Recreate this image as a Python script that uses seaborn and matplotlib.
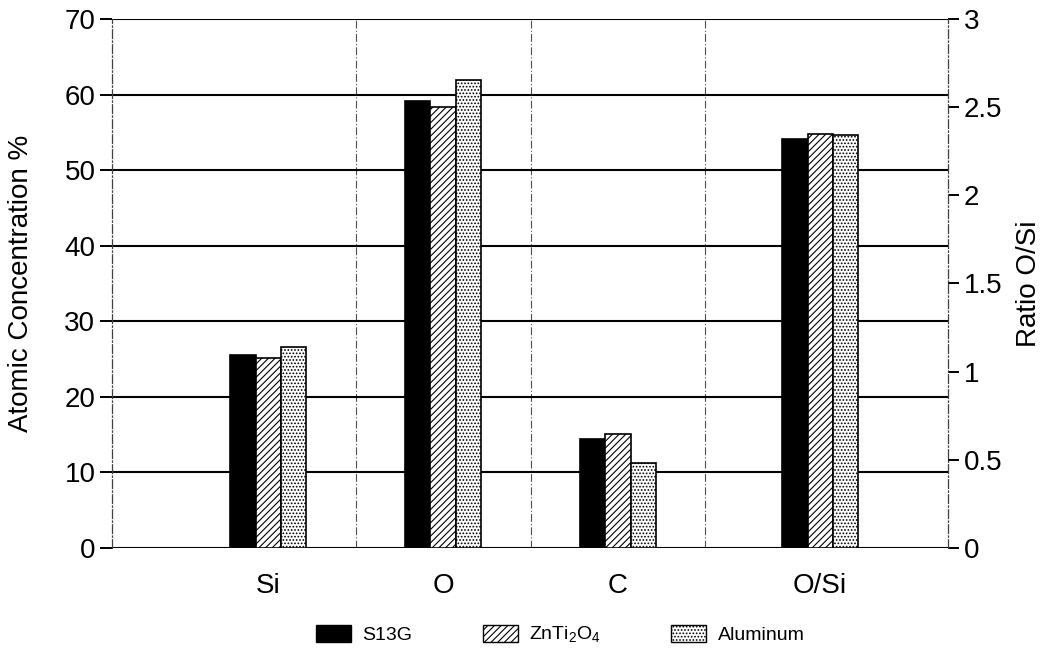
import matplotlib
matplotlib.use("Agg")
import pandas as pd
import matplotlib.pyplot as plt
import seaborn as sns
from matplotlib.patches import Patch

# ---- data ----
elements = ["Si", "O", "C"]
ratio_cat = ["O/Si"]
samples = ["S13G", "ZnTi$_2$O$_4$", "Aluminum"]

s13g_conc = [25.5, 59.1, 14.4]
zn_conc = [25.2, 58.4, 15.1]
al_conc = [26.6, 61.9, 11.3]

s13g_ratio = [2.32]
zn_ratio = [2.35]
al_ratio = [2.34]

left_ticks = [0, 10, 20, 30, 40, 50, 60, 70]
right_ticks = [0, 0.5, 1, 1.5, 2, 2.5, 3]
right_labels = ["0", "0.5", "1", "1.5", "2", "2.5", "3"]

# ---- style ----
sns.set_theme(style="white")
plt.rcParams['font.family'] = ['Liberation Sans', 'DejaVu Sans']
plt.rcParams['hatch.linewidth'] = 0.8
plt.rcParams['mathtext.fontset'] = 'custom'
plt.rcParams['mathtext.rm'] = 'Liberation Sans'
plt.rcParams['text.color'] = 'black'
plt.rcParams['axes.labelcolor'] = 'black'
plt.rcParams['xtick.color'] = 'black'
plt.rcParams['ytick.color'] = 'black'

FILLS = ["black", "white", "white"]
HATCHES = [None, "/////", "....."]
DASH = (0, (7, 2, 1, 2))

conc_df = pd.DataFrame({
    "element": elements * 3,
    "sample": [s for s in samples for _ in elements],
    "value": s13g_conc + zn_conc + al_conc,
})
ratio_df = pd.DataFrame({
    "element": ratio_cat * 3,
    "sample": samples,
    "value": s13g_ratio + zn_ratio + al_ratio,
})

fig = plt.figure(figsize=(10.57, 6.69), dpi=100)
rect = [0.106, 0.181, 0.791, 0.7906]
ax = fig.add_axes(rect)
ax2 = fig.add_axes(rect)
ax2.patch.set_visible(False)

XLIM = (-0.894, 3.889)
SHIFT = 0.157  # ratio group sits a little right of the 4th slot

# left axis: atomic concentration
sns.barplot(data=conc_df, x="element", y="value", hue="sample",
            order=elements, hue_order=samples, palette=FILLS,
            saturation=1, width=0.434, edgecolor="black", linewidth=1.2,
            legend=False, ax=ax)
for cont, h in zip(ax.containers, HATCHES):
    for bar in cont:
        if h:
            bar.set_hatch(h)

# right axis: ratio O/Si
sns.barplot(data=ratio_df, x="element", y="value", hue="sample",
            order=elements + ratio_cat, hue_order=samples, palette=FILLS,
            saturation=1, width=0.434, edgecolor="black", linewidth=1.2,
            legend=False, ax=ax2)
for cont, h in zip(ax2.containers, HATCHES):
    for bar in cont:
        if h:
            bar.set_hatch(h)

ax.set_xlim(*XLIM)
ax2.set_xlim(XLIM[0] - SHIFT, XLIM[1] - SHIFT)
ax.set_ylim(0, 70)
ax2.set_ylim(0, 3)

# grids
ax.set_axisbelow(True)
ax.set_yticks(left_ticks)
ax.grid(axis="y", which="major", color="black", lw=1.5, ls="-")
ax.set_xticks([0, 1, 2], elements)
ax.set_xticks([0.5, 1.5, 2.5], minor=True)
ax.grid(axis="x", which="minor", color="0.3", lw=0.8, ls=DASH)
ax.grid(axis="x", which="major", visible=False)

# spines
for s in ["top", "bottom", "right"]:
    ax.spines[s].set_visible(False)
ax.spines["left"].set_color("0.25")
ax.spines["left"].set_linewidth(0.9)
ax.spines["left"].set_linestyle(DASH)
for s in ["top", "bottom", "left"]:
    ax2.spines[s].set_visible(False)
ax2.spines["right"].set_color("0.25")
ax2.spines["right"].set_linewidth(0.9)
ax2.spines["right"].set_linestyle(DASH)

# ticks
ax.tick_params(axis="y", which="major", left=True, length=9, width=1.4,
               labelsize=20, pad=3)
ax.tick_params(axis="x", which="both", length=0, labelsize=20, pad=18)
ax2.yaxis.tick_right()
ax2.yaxis.set_label_position("right")
ax2.set_yticks(right_ticks, right_labels)
ax2.tick_params(axis="y", right=True, length=8, width=1.4, labelsize=20, pad=3)
ax2.set_xticks([3], ratio_cat)
ax2.tick_params(axis="x", length=0, labelsize=20, pad=18)

ax.set_xlabel("")
ax2.set_xlabel("")
ax.set_ylabel("Atomic Concentration %", fontsize=20, labelpad=22)
ax2.set_ylabel("Ratio O/Si", fontsize=20, labelpad=10)

# legend
handles = [Patch(facecolor=f, edgecolor="black", hatch=h, linewidth=1.0)
           for f, h in zip(FILLS, HATCHES)]
fig.legend(handles, samples, loc="center", bbox_to_anchor=(0.53, 0.051),
           ncol=3, frameon=False, fontsize=14, handlelength=1.8,
           handleheight=1.0, columnspacing=3.6, handletextpad=0.6)

fig.savefig("out.png", dpi=100)
